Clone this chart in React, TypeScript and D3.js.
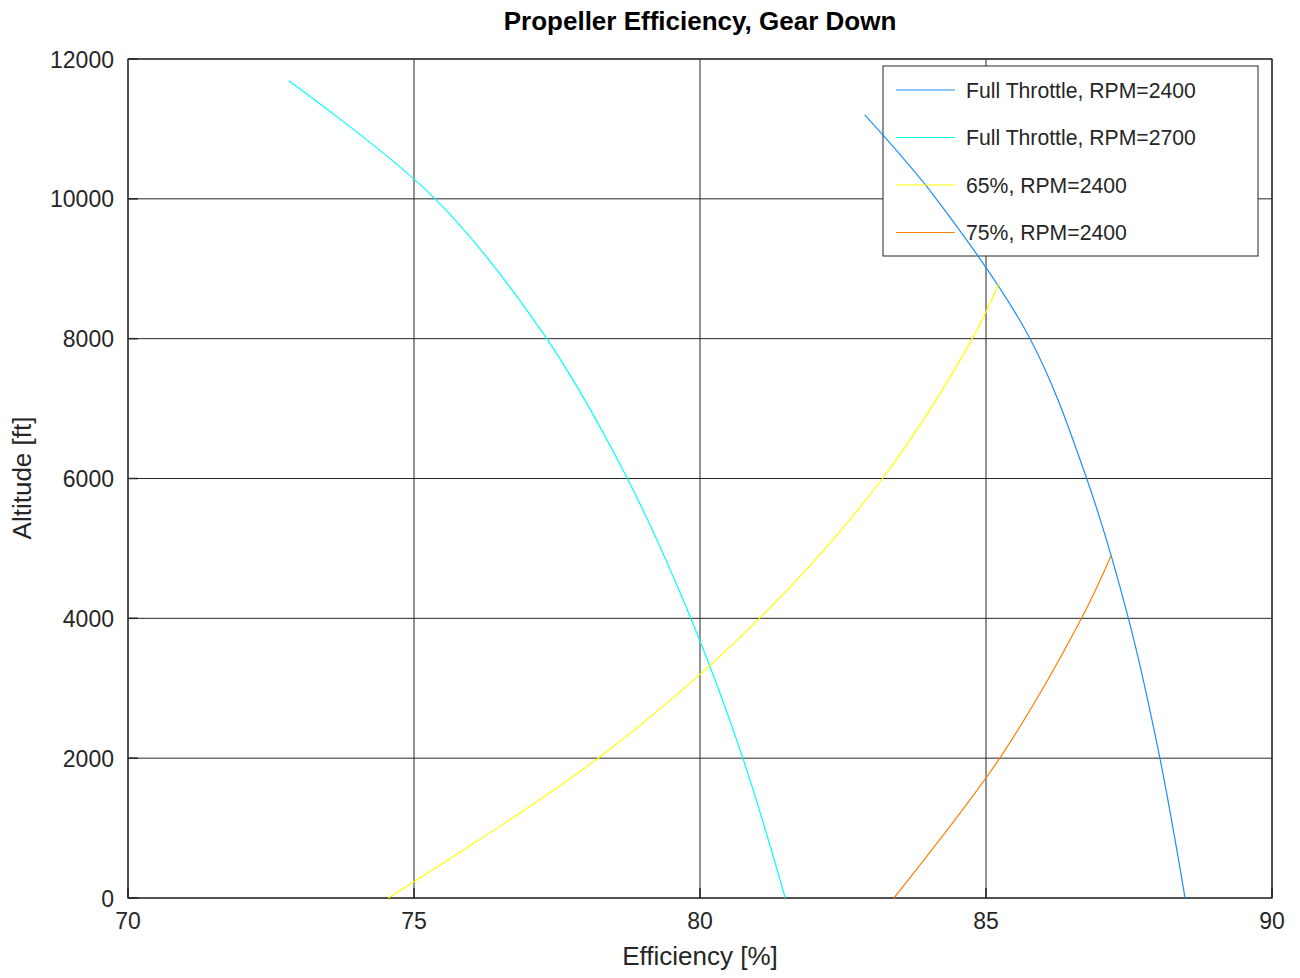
import React from "react";
import * as d3 from "d3";

const xTicks = [70, 75, 80, 85, 90];
const yTicks = [0, 2000, 4000, 6000, 8000, 10000, 12000];

const seriesNames = ["Full Throttle, RPM=2400", "Full Throttle, RPM=2700", "65%, RPM=2400", "75%, RPM=2400"];
const seriesColors = ["#1e8cff", "#00ffff", "#ffff00", "#ff8000"];

// [efficiency %, altitude ft]
const ft2400: [number, number][] = [
  [82.88, 11200], [84.13, 10000], [85.77, 8000], [86.76, 6000],
  [87.49, 4000], [88.04, 2000], [88.48, 0],
];
const ft2700: [number, number][] = [
  [72.81, 11690], [75.37, 10000], [77.32, 8000], [78.73, 6000],
  [79.84, 4000], [80.75, 2000], [81.49, 0],
];
const p65: [number, number][] = [
  [74.55, 0], [78.22, 2000], [81.04, 4000], [83.19, 6000], [84.76, 8000], [85.23, 8800],
];
const p75: [number, number][] = [
  [83.39, 0], [85.24, 2000], [86.67, 4000], [87.19, 4903],
];
const allSeries = [ft2400, ft2700, p65, p75];

export default function App() {
  const W = 1300, H = 978;
  const left = 128, right = 1272, top = 59, bottom = 898;
  const x = d3.scaleLinear().domain([70, 90]).range([left, right]);
  const y = d3.scaleLinear().domain([0, 12000]).range([bottom, top]);
  const line = d3.line<[number, number]>().x(d => x(d[0])).y(d => y(d[1])).curve(d3.curveCatmullRom.alpha(0.5));
  const font = "'Liberation Sans', Arial, Helvetica, sans-serif";
  const txt = "#262626";
  const lg = { x: 883, y: 66, w: 375, h: 190 };
  const rowY = (i: number) => 90 + i * 47.5;

  return (
    <svg width={W} height={H} style={{ position: "absolute", left: 0, top: 0, background: "#fff" }} fontFamily={font}>
      <rect x={0} y={0} width={W} height={H} fill="#fff" />
      {xTicks.map(t => (
        <line key={"gx" + t} x1={x(t)} x2={x(t)} y1={top} y2={bottom} stroke="#262626" strokeWidth={1} />
      ))}
      {yTicks.map(t => (
        <line key={"gy" + t} x1={left} x2={right} y1={y(t)} y2={y(t)} stroke="#262626" strokeWidth={1} />
      ))}
      <rect x={lg.x} y={lg.y} width={lg.w} height={lg.h} fill="#fff" stroke="#262626" strokeWidth={1} />
      <rect x={left} y={top} width={right - left} height={bottom - top} fill="none" stroke="#262626" strokeWidth={1.2} />
      {xTicks.map(t => (
        <g key={"tx" + t}>
          <line x1={x(t)} x2={x(t)} y1={bottom} y2={bottom - 10} stroke="#262626" strokeWidth={1.5} />
          <text x={x(t)} y={929} textAnchor="middle" fontSize={23} fill={txt}>{t}</text>
        </g>
      ))}
      {yTicks.map(t => (
        <g key={"ty" + t}>
          <line x1={left} x2={left + 10} y1={y(t)} y2={y(t)} stroke="#262626" strokeWidth={1.5} />
          <text x={114} y={y(t) + 8.5} textAnchor="end" fontSize={23} fill={txt}>{t}</text>
        </g>
      ))}
      {allSeries.map((s, i) => (
        <path key={"s" + i} d={line(s) || ""} fill="none" stroke={seriesColors[i]} strokeWidth={1.2} />
      ))}
      {seriesNames.map((n, i) => (
        <g key={"l" + i}>
          <line x1={896} x2={955} y1={rowY(i)} y2={rowY(i)} stroke={seriesColors[i]} strokeWidth={1.2} />
          <text x={966} y={rowY(i) + 7.5} fontSize={21.2} fill={txt}>{n}</text>
        </g>
      ))}
      <text x={700} y={30} textAnchor="middle" fontSize={26} fontWeight="bold" fill="#000">Propeller Efficiency, Gear Down</text>
      <text x={700} y={965} textAnchor="middle" fontSize={26} fill={txt}>Efficiency [%]</text>
      <text transform={`translate(31,478) rotate(-90)`} textAnchor="middle" fontSize={26} fill={txt}>Altitude [ft]</text>
    </svg>
  );
}
